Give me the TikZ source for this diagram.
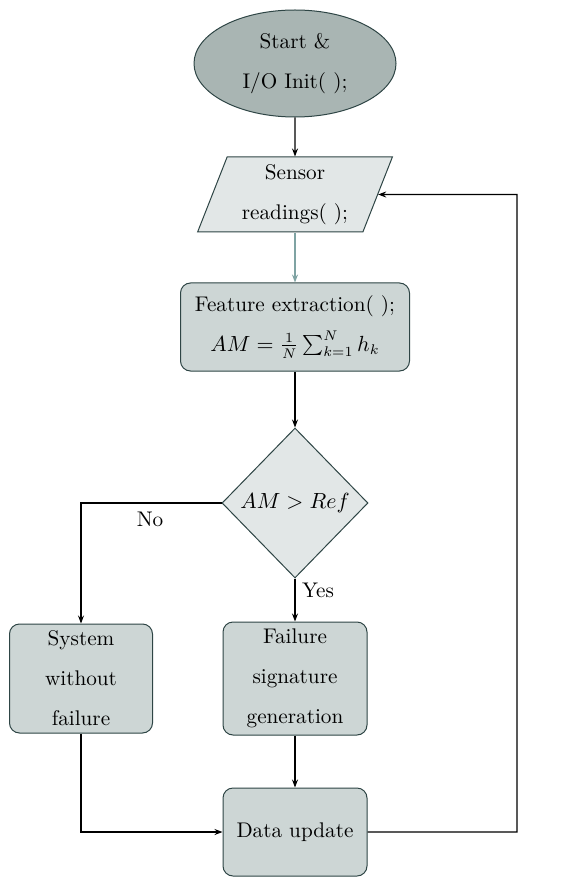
\documentclass[tikz,border=0pt]{standalone}
\usetikzlibrary{shapes.geometric,arrows.meta}
\definecolor{edgec}{HTML}{2E4545}
\definecolor{darkfill}{HTML}{A9B5B3}
\definecolor{lightfill}{HTML}{E2E7E7}
\definecolor{midfill}{HTML}{CDD6D5}
\definecolor{tealline}{HTML}{7FA3A3}
\tikzset{
  base/.style={draw=edgec, line width=0.5pt, align=center, font=\fontsize{10.6}{20}\selectfont, inner sep=2pt},
  startnode/.style={base, ellipse, fill=darkfill, minimum width=101pt, minimum height=53.5pt},
  ionode/.style={base, trapezium, trapezium left angle=70, trapezium right angle=110, trapezium stretches=true, fill=lightfill, minimum width=97.5pt, minimum height=37.5pt},
  procnode/.style={base, rectangle, rounded corners=5pt, fill=midfill},
  decnode/.style={base, diamond, aspect=1, inner sep=0pt, fill=lightfill, minimum width=73pt, minimum height=75pt},
  conn/.style={draw=black, line width=0.55pt, -{Stealth[length=4pt,width=3pt]}},
  lab/.style={font=\fontsize{10.6}{13}\selectfont}
}
\begin{document}
\begin{tikzpicture}[x=0.5pt,y=-0.5pt]
\useasboundingbox (0,0) rectangle (568,887);
\node[startnode] (start) at (295,63.5) {Start \&\\ I/O Init( );};
\node[ionode] (sensor) at (295,194.5) {Sensor\\ readings( );};
\node[procnode, minimum width=114.5pt, minimum height=44pt] (feat) at (295,327) {Feature extraction( );\\ $AM=\frac{1}{N}\sum_{k=1}^{N}h_k$};
\node[decnode] (dec) at (295,503) {$AM>Ref$};
\node[procnode, minimum width=71.5pt, minimum height=54.5pt] (sys) at (81,678.5) {System\\ without\\ failure};
\node[procnode, minimum width=72pt, minimum height=56.5pt] (fail) at (295,678.5) {Failure\\ signature\\ generation};
\node[procnode, minimum width=72pt, minimum height=44pt] (data) at (295,832) {Data update};
\coordinate (nocorner) at (81,503);
\coordinate (sysdown) at (81,832);
\coordinate (fbr) at (517,832);
\coordinate (fbt) at (517,194.5);
\draw[conn] (start) -- (sensor);
\draw[conn, draw=tealline, line width=1pt] (sensor) -- (feat);
\draw[conn] (feat) -- (dec);
\draw[conn] (dec.west) -- (nocorner) -- (sys.north);
\draw[conn] (dec.south) -- (fail.north);
\draw[conn] (fail) -- (data);
\draw[conn] (sys.south) -- (sysdown) -- (data.west);
\draw[conn] (data.east) -- (fbr) -- (fbt) -- (sensor.east);
\node[lab] (nolab) at (150,519) {No};
\node[lab] (yeslab) at (318,590) {Yes};
\end{tikzpicture}
\end{document}
